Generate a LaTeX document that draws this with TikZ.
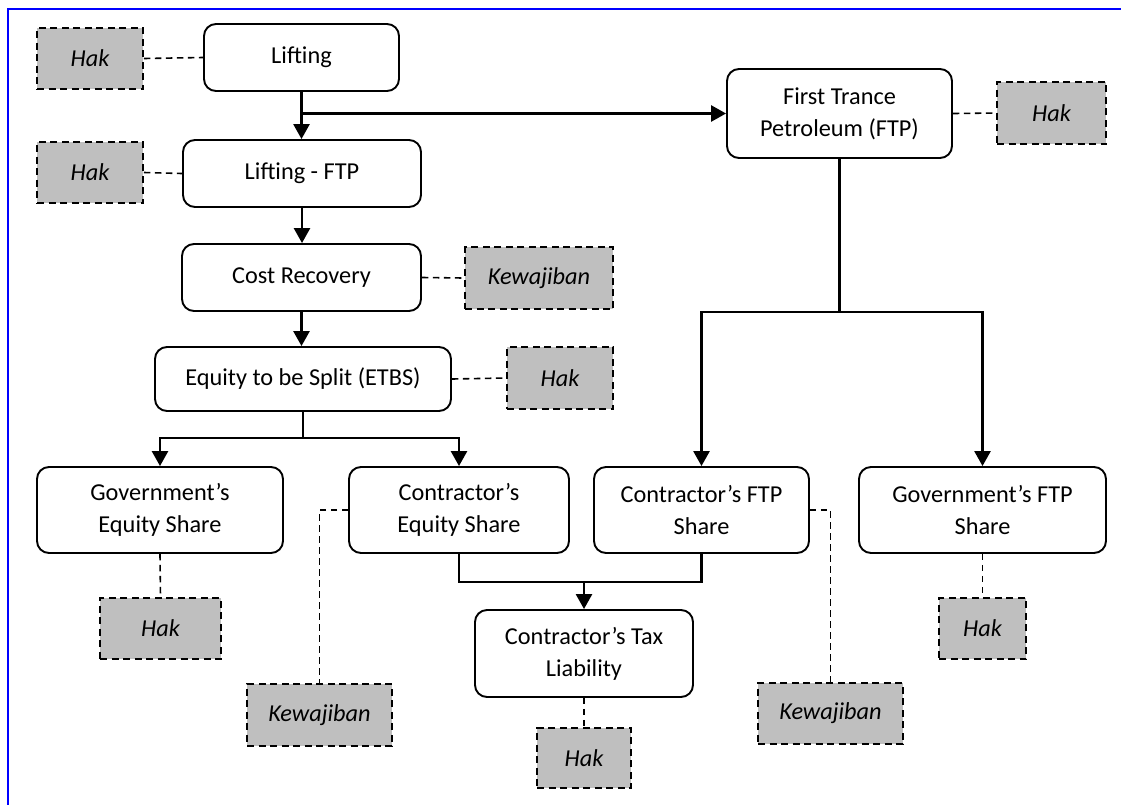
\documentclass[tikz,border=0pt]{standalone}
\usepackage{fontspec}
\setmainfont{Carlito}
\usetikzlibrary{arrows.meta}
\tikzset{
  flowbox/.style={draw=black, line width=1.9pt, rounded corners=12pt, fill=white, align=center, inner sep=0pt, font=\fontsize{24.3}{32}\selectfont},
  notebox/.style={draw=black, line width=1.8pt, dash pattern=on 7pt off 4.5pt, fill=black!25, align=center, inner sep=0pt, font=\fontsize{24.3}{32}\selectfont\itshape},
  dashlink/.style={draw=black, line width=1.6pt, dash pattern=on 6.5pt off 4.5pt},
  solidlink/.style={draw=black, line width=2.6pt},
  arrowlink/.style={solidlink, -{Triangle[length=15pt,width=16pt]}},
}
\begin{document}
\begin{tikzpicture}[x=1pt,y=-1pt]
\useasboundingbox (0,0) rectangle (1121,804);
\draw[blue, line width=1.8pt] (8,806) -- (8,9) -- (1123,9);

% main flow
\node[flowbox, minimum width=195pt, minimum height=67pt] (lift) at (301.5,57.5) {Lifting};
\node[flowbox, minimum width=238pt, minimum height=67pt] (lftp) at (302,173.5) {Lifting - FTP};
\node[flowbox, minimum width=239pt, minimum height=67pt] (cr) at (301.5,277.5) {Cost Recovery};
\node[flowbox, minimum width=296pt, minimum height=64pt] (etbs) at (303,379) {Equity to be Split (ETBS)};
\node[flowbox, minimum width=225pt, minimum height=89pt] (ftp) at (839.5,113.5) {First Trance\\Petroleum (FTP)};
\node[flowbox, minimum width=246pt, minimum height=86pt] (geq) at (160,510) {Government’s\\Equity Share};
\node[flowbox, minimum width=220pt, minimum height=86pt] (ceq) at (459,510) {Contractor’s\\Equity Share};
\node[flowbox, minimum width=215pt, minimum height=86pt] (cftp) at (701.5,510) {Contractor’s FTP\\Share};
\node[flowbox, minimum width=247pt, minimum height=86pt] (gftp) at (982.5,510) {Government’s FTP\\Share};
\node[flowbox, minimum width=218pt, minimum height=87pt] (tax) at (584,653.5) {Contractor’s Tax\\Liability};

% notes
\node[notebox, minimum width=106pt, minimum height=61pt] (hak1) at (90,58.5) {Hak};
\node[notebox, minimum width=106pt, minimum height=61pt] (hak2) at (90,172.5) {Hak};
\node[notebox, minimum width=148pt, minimum height=62pt] (kew1) at (539,278) {Kewajiban};
\node[notebox, minimum width=106pt, minimum height=62pt] (hak3) at (560,378) {Hak};
\node[notebox, minimum width=109pt, minimum height=62pt] (hak4) at (1051.5,113) {Hak};
\node[notebox, minimum width=121pt, minimum height=61pt] (hak5) at (160.5,628.5) {Hak};
\node[notebox, minimum width=145pt, minimum height=62pt] (kew2) at (319.5,715) {Kewajiban};
\node[notebox, minimum width=94pt, minimum height=60pt] (hak6) at (584,758) {Hak};
\node[notebox, minimum width=145pt, minimum height=61pt] (kew3) at (830.5,713.5) {Kewajiban};
\node[notebox, minimum width=87pt, minimum height=61pt] (hak7) at (982.5,628.5) {Hak};

% junction helpers
\coordinate (yA) at (0,113.5);
\coordinate (yB) at (0,438);
\coordinate (yC) at (0,312);
\coordinate (yD) at (0,582);

% solid connectors
\draw[arrowlink] (lift.south) -- (lift.south |- lftp.north);
\draw[arrowlink] (lift.south |- yA) -- (ftp.west);
\draw[arrowlink] (lftp.south) -- (lftp.south |- cr.north);
\draw[arrowlink] (cr.south) -- (cr.south |- etbs.north);
\draw[solidlink] (etbs.south) -- (etbs.south |- yB);
\draw[arrowlink] (etbs.south |- yB) -| (geq.north);
\draw[arrowlink] (etbs.south |- yB) -| (ceq.north);
\draw[solidlink] (ftp.south) -- (ftp.south |- yC);
\draw[arrowlink] (ftp.south |- yC) -| (cftp.north);
\draw[arrowlink] (ftp.south |- yC) -| (gftp.north);
\draw[solidlink] (ceq.south) -- (ceq.south |- yD) -- (cftp.south |- yD) -- (cftp.south);
\draw[arrowlink] (tax.north |- yD) -- (tax.north);

% dashed links
\draw[dashlink] (hak1.east) -- (lift.west);
\draw[dashlink] (hak2.east) -- (lftp.west);
\draw[dashlink] (cr.east) -- (kew1.west);
\draw[dashlink] (etbs.east) -- (hak3.west);
\draw[dashlink] (ftp.east) -- (hak4.west);
\draw[dashlink] (geq.south) -- (hak5.north);
\draw[dashlink] (ceq.west) -| (kew2.north);
\draw[dashlink] (tax.south) -- (hak6.north);
\draw[dashlink] (cftp.east) -| (kew3.north);
\draw[dashlink] (gftp.south) -- (hak7.north);
\end{tikzpicture}
\end{document}
